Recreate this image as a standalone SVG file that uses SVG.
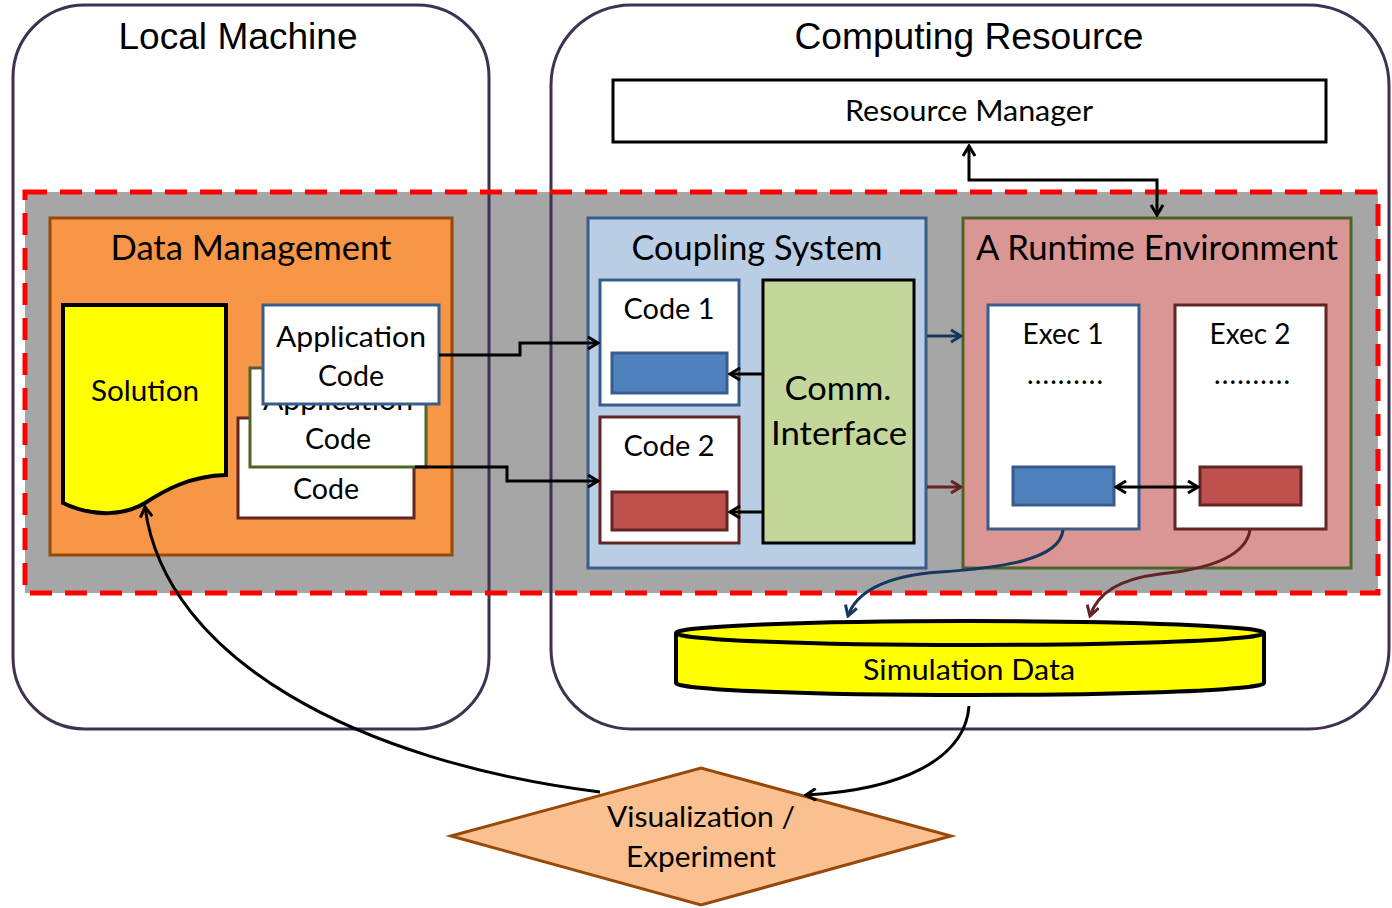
<svg xmlns="http://www.w3.org/2000/svg" width="1392" height="908" viewBox="0 0 1392 908">
<style>
  .t { font-family: Lato, "Open Sans", sans-serif; fill: #000; text-anchor: middle; }
  .h { font-family: "Liberation Sans", Arial, sans-serif; fill: #000; text-anchor: middle; font-size: 36px; }
  .env { stroke: #3F3151; stroke-width: 3; fill: none; }
  .ln { fill: none; stroke: #000; stroke-width: 3; }
</style>
<defs>
  <marker id="ah" markerWidth="14" markerHeight="14" refX="12" refY="7" orient="auto-start-reverse" markerUnits="userSpaceOnUse">
    <path d="M2,1 L12,7 L2,13" fill="none" stroke="#000" stroke-width="3"/>
  </marker>
  <marker id="ahb" markerWidth="14" markerHeight="14" refX="12" refY="7" orient="auto" markerUnits="userSpaceOnUse">
    <path d="M2,1 L12,7 L2,13" fill="none" stroke="#17375E" stroke-width="3"/>
  </marker>
  <marker id="ahr" markerWidth="14" markerHeight="14" refX="12" refY="7" orient="auto" markerUnits="userSpaceOnUse">
    <path d="M2,1 L12,7 L2,13" fill="none" stroke="#632523" stroke-width="3"/>
  </marker>
  <clipPath id="clipMid">
    <rect x="250" y="404" width="176" height="63"/>
  </clipPath>
</defs>
<rect width="1392" height="908" fill="#fff"/>

<!-- grey band -->
<g id="band">
  <rect x="25" y="192" width="1353" height="401" fill="#A6A6A6"/>
</g>

<!-- environments -->
<g id="local-machine">
  <rect class="env" x="13" y="5" width="476" height="724" rx="72" ry="72"/>
  <text class="h" x="238" y="49" textLength="239" lengthAdjust="spacingAndGlyphs">Local Machine</text>
</g>
<g id="computing-resource">
  <rect class="env" x="551" y="5" width="838" height="724" rx="80" ry="80"/>
  <text class="h" x="969" y="49" textLength="349" lengthAdjust="spacingAndGlyphs">Computing Resource</text>
</g>

<g id="band-border">
  <rect x="25" y="192" width="1353" height="401" fill="none" stroke="#FF0000" stroke-width="5" stroke-dasharray="22,13"/>
</g>

<g id="resource-manager">
  <rect x="613" y="80" width="713" height="62" fill="#fff" stroke="#000" stroke-width="3"/>
  <text class="t" x="969" y="121" font-size="28" textLength="248" lengthAdjust="spacingAndGlyphs">Resource Manager</text>
</g>

<g id="data-management">
  <rect x="50" y="218" width="402" height="337" fill="#F79646" stroke="#984807" stroke-width="3"/>
  <text class="t" x="251" y="260" font-size="35" textLength="281" lengthAdjust="spacingAndGlyphs">Data Management</text>
</g>

<g id="solution">
  <path d="M63,305 H226 V475 C190,476 165,490 145,503 C125,515 95,518 63,503 Z" fill="#FFFF00" stroke="#000" stroke-width="4"/>
  <text class="t" x="145" y="401" font-size="28" textLength="108" lengthAdjust="spacingAndGlyphs">Solution</text>
</g>

<g id="app-code-3">
  <rect x="238" y="418" width="176" height="100" fill="#fff" stroke="#632523" stroke-width="3"/>
  <text class="t" x="326" y="499" font-size="28" textLength="66" lengthAdjust="spacingAndGlyphs">Code</text>
</g>
<g id="app-code-2">
  <rect x="250" y="368" width="176" height="99" fill="#fff" stroke="#4F6228" stroke-width="3"/>
  <text class="t" x="338" y="410" font-size="28" textLength="150" lengthAdjust="spacingAndGlyphs" clip-path="url(#clipMid)">Application</text>
  <text class="t" x="338" y="449" font-size="28" textLength="66" lengthAdjust="spacingAndGlyphs">Code</text>
</g>
<g id="app-code-1">
  <rect x="263" y="305" width="176" height="99" fill="#fff" stroke="#385D8A" stroke-width="3"/>
  <text class="t" x="351" y="347" font-size="28" textLength="150" lengthAdjust="spacingAndGlyphs">Application</text>
  <text class="t" x="351" y="386" font-size="28" textLength="66" lengthAdjust="spacingAndGlyphs">Code</text>
</g>

<g id="coupling-system">
  <rect x="588" y="218" width="338" height="350" fill="#B9CDE5" stroke="#385D8A" stroke-width="3"/>
  <text class="t" x="757" y="260" font-size="35" textLength="251" lengthAdjust="spacingAndGlyphs">Coupling System</text>
</g>
<g id="code1">
  <rect x="600" y="280" width="139" height="125" fill="#fff" stroke="#385D8A" stroke-width="3"/>
  <text class="t" x="669" y="319" font-size="28" textLength="91" lengthAdjust="spacingAndGlyphs">Code 1</text>
  <rect x="612" y="353" width="115" height="40" fill="#4F81BD" stroke="#385D8A" stroke-width="3"/>
</g>
<g id="code2">
  <rect x="600" y="417" width="139" height="126" fill="#fff" stroke="#632523" stroke-width="3"/>
  <text class="t" x="669" y="456" font-size="28" textLength="91" lengthAdjust="spacingAndGlyphs">Code 2</text>
  <rect x="612" y="492" width="115" height="38" fill="#C0504D" stroke="#632523" stroke-width="3"/>
</g>
<g id="comm-interface">
  <rect x="763" y="280" width="151" height="263" fill="#C4D79B" stroke="#000" stroke-width="3"/>
  <text class="t" x="838" y="400" font-size="33" textLength="107" lengthAdjust="spacingAndGlyphs">Comm.</text>
  <text class="t" x="839" y="445" font-size="33" textLength="136" lengthAdjust="spacingAndGlyphs">Interface</text>
</g>

<g id="runtime-environment">
  <rect x="963" y="218" width="388" height="350" fill="#D99694" stroke="#4F6228" stroke-width="3"/>
  <text class="t" x="1157" y="260" font-size="35" textLength="362" lengthAdjust="spacingAndGlyphs">A Runtime Environment</text>
</g>
<g id="exec1">
  <rect x="988" y="305" width="151" height="224" fill="#fff" stroke="#385D8A" stroke-width="3"/>
  <text class="t" x="1063" y="344" font-size="28" textLength="81" lengthAdjust="spacingAndGlyphs">Exec 1</text>
  <text class="t" x="1065" y="384" font-size="28" textLength="76" lengthAdjust="spacing">..........</text>
  <rect x="1013" y="467" width="101" height="38" fill="#4F81BD" stroke="#385D8A" stroke-width="3"/>
</g>
<g id="exec2">
  <rect x="1175" y="305" width="151" height="224" fill="#fff" stroke="#632523" stroke-width="3"/>
  <text class="t" x="1250" y="344" font-size="28" textLength="81" lengthAdjust="spacingAndGlyphs">Exec 2</text>
  <text class="t" x="1252" y="384" font-size="28" textLength="76" lengthAdjust="spacing">..........</text>
  <rect x="1200" y="467" width="101" height="38" fill="#C0504D" stroke="#632523" stroke-width="3"/>
</g>

<g id="simulation-data">
  <path d="M676,633 V683 A294,12 0 0 0 1264,683 V633" fill="#FFFF00" stroke="#000" stroke-width="4"/>
  <ellipse cx="970" cy="633" rx="294" ry="12" fill="#FFFF00" stroke="#000" stroke-width="4"/>
  <text class="t" x="969" y="680" font-size="28" textLength="212" lengthAdjust="spacingAndGlyphs">Simulation Data</text>
</g>

<g id="visualization">
  <polygon points="451,836 701,768 951,836 701,905" fill="#FAC090" stroke="#984807" stroke-width="3"/>
  <text class="t" x="701" y="827" font-size="28" textLength="188" lengthAdjust="spacingAndGlyphs">Visualization /</text>
  <text class="t" x="701" y="867" font-size="28" textLength="150" lengthAdjust="spacingAndGlyphs">Experiment</text>
</g>

<g id="connectors">
  <path class="ln" d="M439,355 H520 V343 H598" marker-end="url(#ah)"/>
  <path class="ln" d="M415,467 H507 V481 H598" marker-end="url(#ah)"/>
  <path class="ln" d="M763,374 H730" marker-end="url(#ah)"/>
  <path class="ln" d="M763,512 H730" marker-end="url(#ah)"/>
  <path d="M927,336 H961" fill="none" stroke="#17375E" stroke-width="3" marker-end="url(#ahb)"/>
  <path d="M927,487 H961" fill="none" stroke="#632523" stroke-width="3" marker-end="url(#ahr)"/>
  <path class="ln" d="M969,146 V180 H1157 V215" marker-start="url(#ah)" marker-end="url(#ah)"/>
  <path class="ln" d="M1116,487 H1198" marker-start="url(#ah)" marker-end="url(#ah)"/>
  <path d="M1063,530 C1060,560 1000,568 940,572 C880,576 855,595 848,616" fill="none" stroke="#17375E" stroke-width="3" marker-end="url(#ahb)"/>
  <path d="M1250,530 C1245,560 1200,570 1160,574 C1110,580 1095,600 1090,616" fill="none" stroke="#632523" stroke-width="3" marker-end="url(#ahr)"/>
  <path class="ln" d="M969,706 C965,760 900,790 806,795" marker-end="url(#ah)"/>
  <path class="ln" d="M600,792 C360,762 165,660 145,507" marker-end="url(#ah)"/>
</g>
</svg>
